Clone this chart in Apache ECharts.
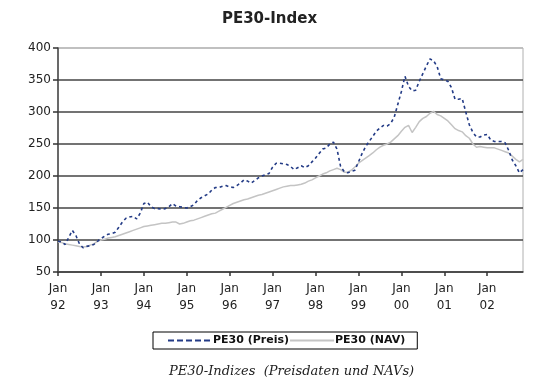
<!DOCTYPE html>
<html>
<head>
<meta charset="utf-8">
<script src="https://cdn.jsdelivr.net/npm/echarts@6/dist/echarts.min.js"></script>
<style>
html,body{margin:0;padding:0;background:#fff;}
#chart{width:539px;height:390px;}
</style>
</head>
<body>
<div id="chart"></div>
<script>
// --- data ---
const monthNames = ['Jan','Feb','Mar','Apr','May','Jun','Jul','Aug','Sep','Oct','Nov','Dec'];
const years = ['92','93','94','95','96','97','98','99','00','01','02'];
const lastMonthIndex = 10; // Nov 02
const months = [];
years.forEach((y, yi) => {
  monthNames.forEach((m, mi) => {
    if (yi < years.length - 1 || mi <= lastMonthIndex) months.push(m + ' ' + y);
  });
});

const yTicks = [50, 100, 150, 200, 250, 300, 350, 400];

const pricePE30 = [
  98, 97, 93, 104, 115, 107, 94, 88, 90, 91, 93, 98,
  102, 106, 109, 110, 112, 120, 128, 134, 136, 137, 133, 142,
  157, 159, 152, 149, 149, 148, 149, 152, 157, 153, 152, 151,
  150, 152, 155, 162, 166, 169, 172, 178, 182, 182, 184, 185,
  183, 182, 185, 189, 194, 192, 189, 193, 197, 200, 202, 204,
  214, 220, 220, 219, 218, 215, 210, 213, 216, 213, 216, 222,
  228, 235, 242, 244, 250, 253, 242, 215, 207, 205, 207, 209,
  222, 235, 246, 254, 262, 270, 275, 279, 278, 282, 292, 312,
  332, 356, 340, 333, 334, 348, 360, 372, 383, 380, 371, 352,
  350, 348, 338, 320, 320, 321, 300, 280, 268, 261, 261, 264,
  265, 256, 254, 254, 254, 252, 240, 225, 216, 205, 210
];

const navPE30 = [
  97, 96, 94, 93, 92, 91, 90, 89, 90, 92, 94, 98,
  100, 101, 103, 104, 105, 107, 109, 111, 113, 115, 117, 119,
  121, 122, 123, 124, 125, 126, 126, 127, 128, 128, 125, 126,
  128, 130, 131, 133, 135, 137, 139, 141, 142, 145, 148, 151,
  154, 157, 159, 161, 163, 164, 166, 168, 170, 171, 173, 175,
  177, 179, 181, 183, 184, 185, 185, 186, 187, 189, 192, 194,
  197, 200, 203, 205, 208, 210, 212, 210, 206, 206, 209, 214,
  220, 224, 228, 232, 236, 241, 245, 248, 250, 253, 258, 263,
  270, 276, 279, 268, 276, 285, 290, 293, 298, 301, 296, 294,
  290, 286, 280, 274, 271, 269, 263, 259, 250, 245, 246, 245,
  244, 244, 244, 242, 240, 238, 236, 231, 226, 222, 226
];

const chart = echarts.init(document.getElementById('chart'), null, {renderer: 'canvas'});
const font = 'DejaVu Sans';

chart.setOption({
  animation: false,
  backgroundColor: '#fff',
  title: {
    text: 'PE30-Index',
    left: 'center',
    top: 7,
    textStyle: {fontFamily: font, fontSize: 15, fontWeight: 'bold', color: '#222'}
  },
  legend: {
    left: 153,
    top: 332,
    padding: [3, 12, 3, 14],
    itemWidth: 44,
    itemHeight: 10,
    itemGap: 0,
    borderColor: '#000',
    borderWidth: 1,
    itemStyle: {opacity: 0},
    textStyle: {fontFamily: font, fontSize: 11, fontWeight: 'bold', color: '#111', padding: [0, 2, 0, -4]},
    data: [
      {name: 'PE30 (Preis)', lineStyle: {type: [6, 3], width: 2}},
      {name: 'PE30 (NAV)'}
    ]
  },
  grid: {
    left: 58, right: 16, top: 48, bottom: 118,
    show: true, borderColor: '#b0b0b0', borderWidth: 1, backgroundColor: 'transparent'
  },
  xAxis: {
    type: 'category',
    data: months,
    boundaryGap: false,
    axisLine: {lineStyle: {color: '#444', width: 1.5}},
    axisTick: {
      interval: (i) => i % 12 === 0,
      length: 4,
      inside: false,
      lineStyle: {color: '#333', width: 1.5}
    },
    axisLabel: {
      interval: (i) => i % 12 === 0,
      formatter: (v) => v.replace(' ', '\n'),
      fontFamily: font, fontSize: 12, color: '#222', lineHeight: 17, margin: 8
    },
    splitLine: {show: false}
  },
  yAxis: {
    type: 'value',
    min: yTicks[0],
    max: yTicks[yTicks.length - 1],
    interval: 50,
    axisLine: {show: true, lineStyle: {color: '#444', width: 1.5}},
    axisTick: {show: true, length: 5, lineStyle: {color: '#333', width: 1.5}},
    axisLabel: {fontFamily: font, fontSize: 12, color: '#222', margin: 7},
    splitLine: {
      show: true,
      lineStyle: {
        color: ['#444', '#444', '#444', '#444', '#444', '#444', '#444', '#b8b8b8'],
        width: 1.5
      }
    }
  },
  graphic: [{
    type: 'text',
    left: 169,
    top: 365,
    style: {
      text: 'PE30-Indizes  (Preisdaten und NAVs)',
      font: 'italic 13px "DejaVu Serif", "Liberation Serif", serif',
      fill: '#222'
    }
  }],
  series: [
    {
      name: 'PE30 (NAV)',
      type: 'line',
      data: navPE30,
      symbol: 'none',
      smooth: false,
      lineStyle: {color: '#c4c4c4', width: 1.5, type: 'solid'},
      itemStyle: {color: '#c4c4c4'},
      z: 2
    },
    {
      name: 'PE30 (Preis)',
      type: 'line',
      data: pricePE30,
      symbol: 'none',
      smooth: false,
      lineStyle: {color: '#233b86', width: 1.6, type: [3, 3]},
      itemStyle: {color: '#233b86'},
      z: 3
    }
  ]
});
</script>
</body>
</html>
